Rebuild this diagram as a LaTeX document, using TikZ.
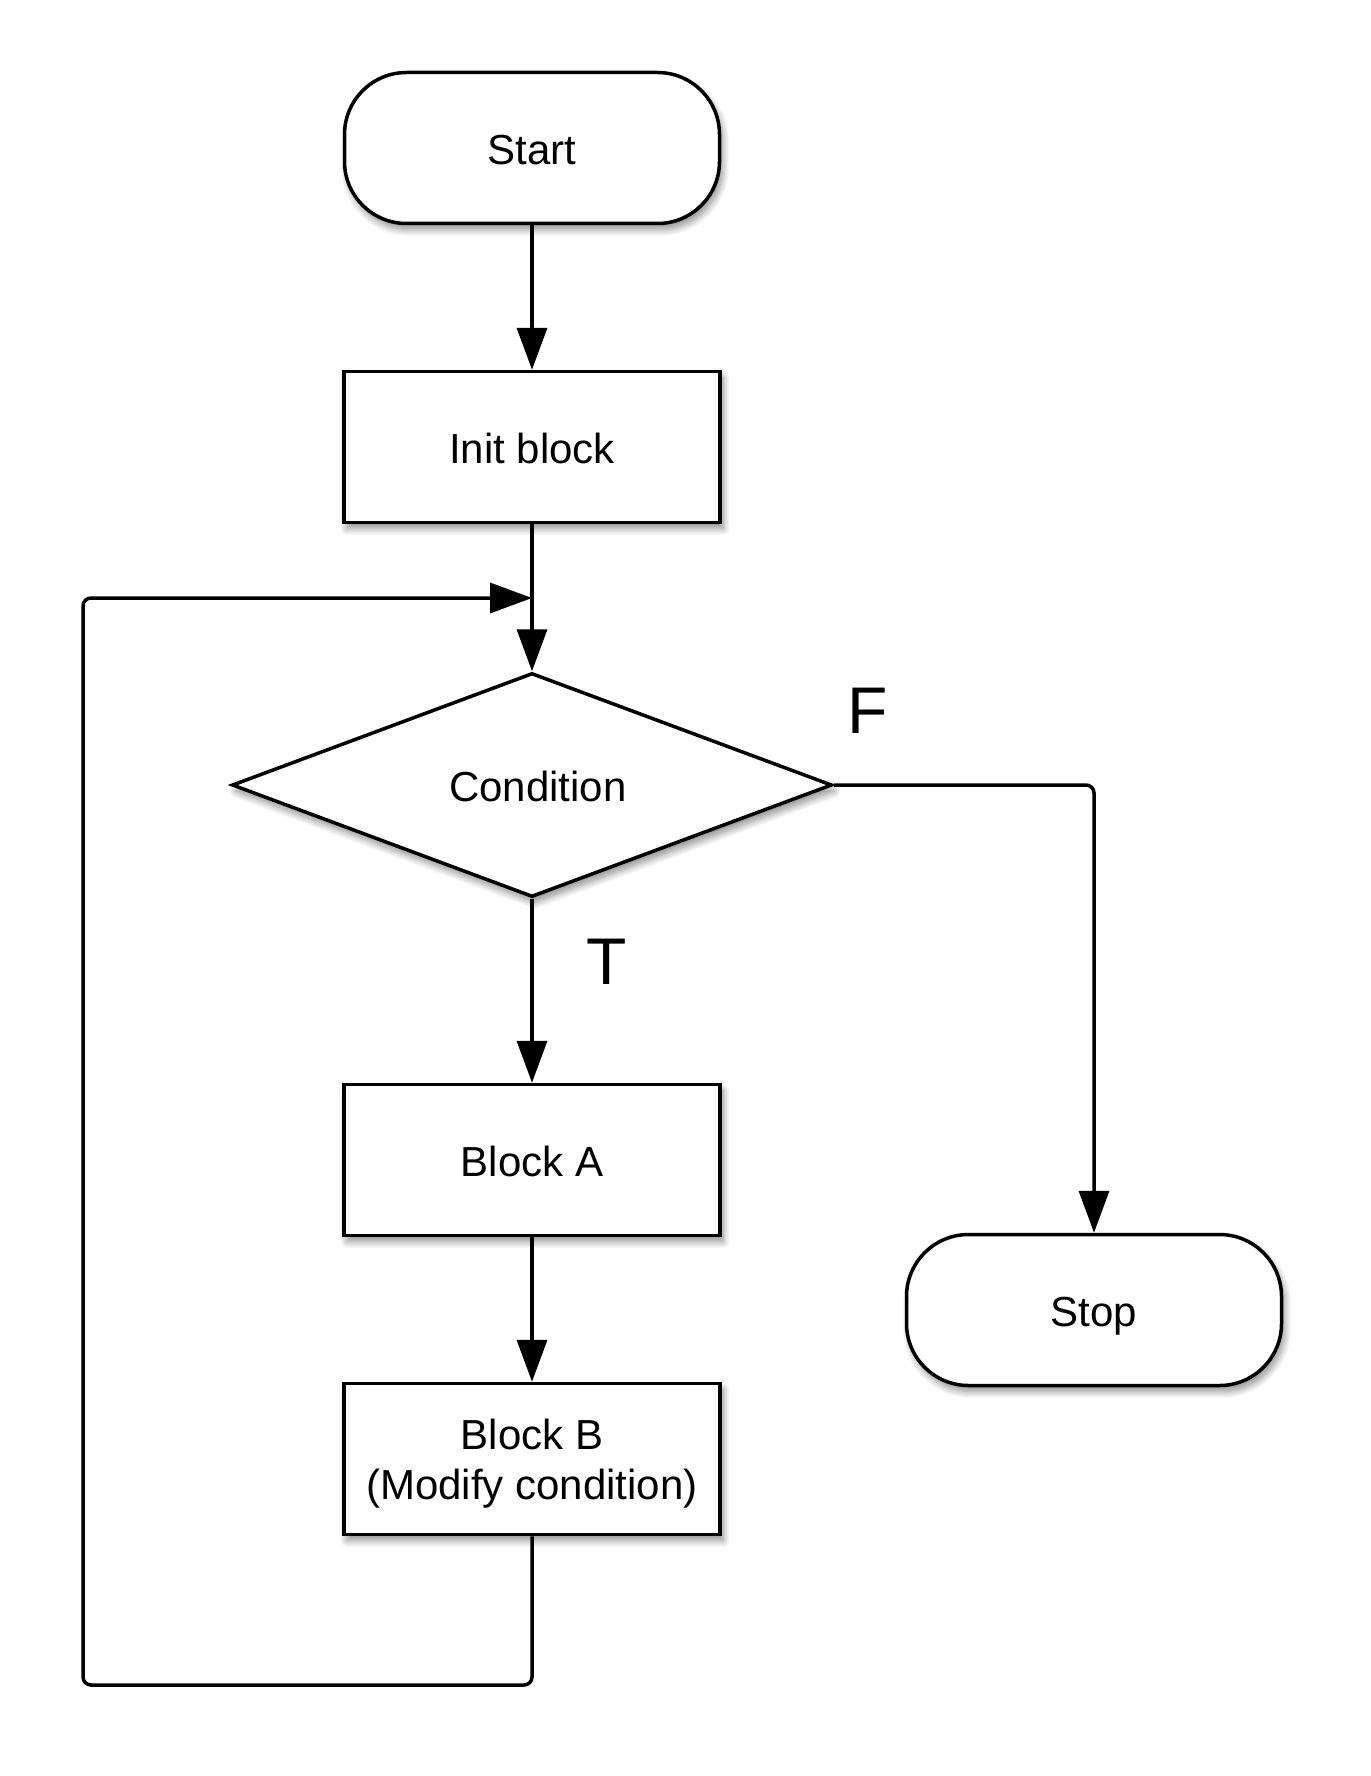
\documentclass[tikz,border=0pt]{standalone}
\usepackage{fontspec}
\setmainfont{Liberation Sans}
\usetikzlibrary{arrows.meta,shapes.geometric,shadows.blur}
\begin{document}
\begin{tikzpicture}[x=1pt,y=-1pt,
  shad/.style={blur shadow={shadow xshift=3pt,shadow yshift=-6pt,shadow blur radius=7pt,shadow blur steps=12,shadow opacity=45}},
  base/.style={draw=black,line width=3.5pt,fill=white,inner sep=0pt,font=\fontsize{42}{50}\selectfont,align=center,shad,text depth=0pt},
  one/.style={text height=33pt},
  term/.style={base,one,rectangle,rounded corners=62pt,minimum width=375pt,minimum height=151pt},
  proc/.style={base,rectangle,minimum width=376pt,minimum height=151pt},
  dec/.style={base,one,diamond,minimum width=600pt,minimum height=224pt},
  conn/.style={line width=3.5pt,-{Triangle[length=42pt,width=30pt]}},
  line/.style={line width=3.5pt,rounded corners=8pt},
  lab/.style={font=\fontsize{66}{70}\selectfont,inner sep=0pt}]
\useasboundingbox (0,0) rectangle (1370,1776);
\node[term] (start) at (532,148) {Start};
\node[proc,one] (init) at (532,447) {Init block};
\node[dec] (cond) at (532,785) {\hspace*{12pt}Condition};
\node[proc,one] (A) at (532,1160) {Block A};
\node[proc] (B) at (532,1459) {Block B\\(Modify condition)};
\node[term] (stop) at (1094,1310) {Stop};
\coordinate (merge) at (532,598);
\coordinate (bl) at (83,1685);
\node[lab] (F) at (868,711) {F};
\node[lab] (T) at (607,962) {T};
\draw[conn] (start) -- (init);
\draw[line] (init) -- (merge);
\draw[conn] (merge) -- (cond.north);
\draw[conn] (cond.south) -- (A);
\draw[conn] (A) -- (B);
\draw[conn,rounded corners=8pt] (cond.east) -| (stop.north);
\draw[conn,rounded corners=8pt] (B.south) |- (bl) |- (merge);
\end{tikzpicture}
\end{document}
